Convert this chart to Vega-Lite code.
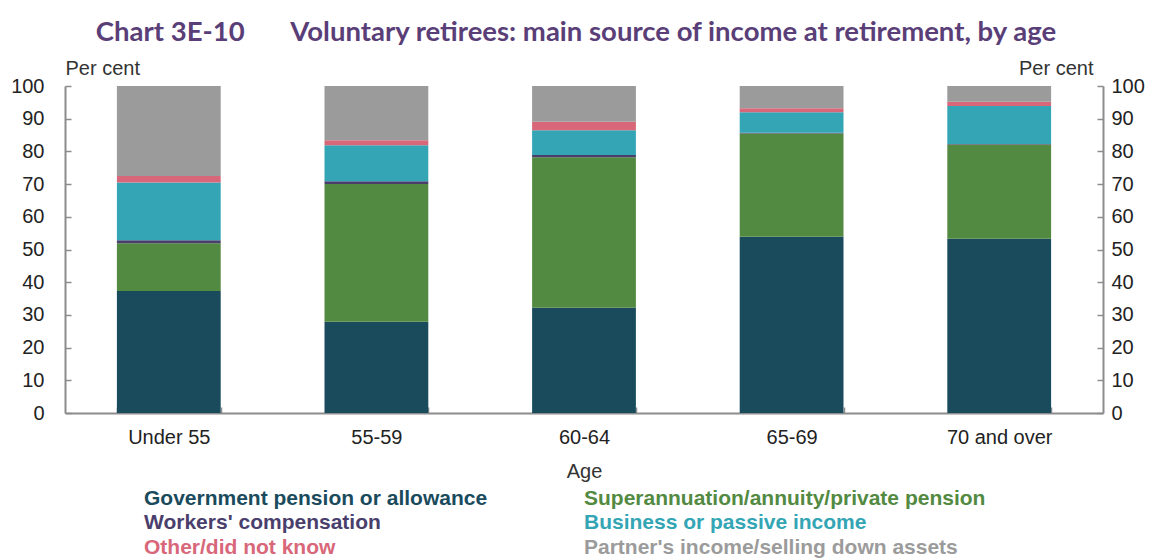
{
  "$schema": "https://vega.github.io/schema/vega-lite/v6.json",
  "autosize": {"type": "none"},
  "width": 1038,
  "height": 327,
  "padding": {"left": 65, "top": 86, "right": 56, "bottom": 146},
  "background": "white",
  "title": {
    "text": "Chart 3E-10\u00a0\u00a0\u00a0\u00a0\u00a0\u00a0\u00a0Voluntary retirees: main source of income at retirement, by age",
    "font": "Lato",
    "fontWeight": "bold",
    "fontSize": 27.5,
    "color": "#5a3e78",
    "anchor": "middle",
    "offset": 12,
    "dx": -8
  },
  "data": {
    "values": [
      {"age": "Under 55", "source": "Government pension or allowance", "value": 37.3},
      {"age": "Under 55", "source": "Superannuation/annuity/private pension", "value": 14.6},
      {"age": "Under 55", "source": "Workers' compensation", "value": 0.9},
      {"age": "Under 55", "source": "Business  or passive  income", "value": 17.7},
      {"age": "Under 55", "source": "Other/did not know", "value": 2.0},
      {"age": "Under 55", "source": "Partner's income/selling down assets", "value": 27.5},
      {"age": "55-59", "source": "Government pension or allowance", "value": 27.9},
      {"age": "55-59", "source": "Superannuation/annuity/private pension", "value": 42.1},
      {"age": "55-59", "source": "Workers' compensation", "value": 0.9},
      {"age": "55-59", "source": "Business  or passive  income", "value": 11.0},
      {"age": "55-59", "source": "Other/did not know", "value": 1.5},
      {"age": "55-59", "source": "Partner's income/selling down assets", "value": 16.6},
      {"age": "60-64", "source": "Government pension or allowance", "value": 32.2},
      {"age": "60-64", "source": "Superannuation/annuity/private pension", "value": 46.0},
      {"age": "60-64", "source": "Workers' compensation", "value": 0.7},
      {"age": "60-64", "source": "Business  or passive  income", "value": 7.6},
      {"age": "60-64", "source": "Other/did not know", "value": 2.6},
      {"age": "60-64", "source": "Partner's income/selling down assets", "value": 10.9},
      {"age": "65-69", "source": "Government pension or allowance", "value": 53.9},
      {"age": "65-69", "source": "Superannuation/annuity/private pension", "value": 31.6},
      {"age": "65-69", "source": "Workers' compensation", "value": 0.2},
      {"age": "65-69", "source": "Business  or passive  income", "value": 6.3},
      {"age": "65-69", "source": "Other/did not know", "value": 1.2},
      {"age": "65-69", "source": "Partner's income/selling down assets", "value": 6.8},
      {"age": "70 and over", "source": "Government pension or allowance", "value": 53.3},
      {"age": "70 and over", "source": "Superannuation/annuity/private pension", "value": 28.8},
      {"age": "70 and over", "source": "Workers' compensation", "value": 0.2},
      {"age": "70 and over", "source": "Business  or passive  income", "value": 11.6},
      {"age": "70 and over", "source": "Other/did not know", "value": 1.3},
      {"age": "70 and over", "source": "Partner's income/selling down assets", "value": 4.8}
    ]
  },
  "transform": [
    {
      "calculate": "indexof(['Government pension or allowance', 'Superannuation/annuity/private pension', \"Workers' compensation\", 'Business  or passive  income', 'Other/did not know', \"Partner's income/selling down assets\"], datum.source)",
      "as": "stackOrder"
    }
  ],
  "config": {
    "view": {"stroke": null},
    "axis": {
      "labelFont": "Liberation Sans, Arial, sans-serif",
      "titleFont": "Liberation Sans, Arial, sans-serif",
      "labelFontSize": 20,
      "labelColor": "#222222",
      "titleColor": "#333333",
      "domainColor": "#8c8c8c",
      "domainWidth": 2,
      "tickColor": "#8c8c8c",
      "tickWidth": 1.5,
      "grid": false
    }
  },
  "encoding": {
    "x": {
      "field": "age",
      "type": "nominal",
      "sort": ["Under 55", "55-59", "60-64", "65-69", "70 and over"],
      "scale": {"paddingInner": 0.5, "paddingOuter": 0.25},
      "axis": {
        "title": "Age",
        "titleFontSize": 20,
        "titleFontWeight": "normal",
        "titlePadding": 14,
        "labelAngle": 0,
        "labelPadding": 20,
        "tickBand": "extent",
        "tickSize": -6
      }
    },
    "order": {"field": "stackOrder", "type": "quantitative", "sort": "ascending"},
    "color": {
      "field": "source",
      "type": "nominal",
      "scale": {
        "domain": [
          "Government pension or allowance",
          "Workers' compensation",
          "Other/did not know",
          "Superannuation/annuity/private pension",
          "Business  or passive  income",
          "Partner's income/selling down assets"
        ],
        "range": ["#1a4b5d", "#4a3f6c", "#d8677a", "#538a42", "#33a5b4", "#9b9b9b"]
      },
      "legend": {
        "orient": "none",
        "legendX": 58,
        "legendY": 402,
        "columns": 2,
        "title": null,
        "symbolSize": 0,
        "symbolStrokeWidth": 0,
        "symbolOpacity": 0,
        "labelOffset": 0,
        "labelFont": "Liberation Sans, Arial, sans-serif",
        "labelFontSize": 21,
        "labelFontWeight": "bold",
        "labelLimit": 600,
        "rowPadding": 2.5,
        "columnPadding": 75,
        "encode": {
          "labels": {"update": {"fill": {"scale": "color", "field": "value"}}}
        }
      }
    }
  },
  "layer": [
    {
      "mark": {"type": "bar"},
      "encoding": {
        "y": {
          "field": "value",
          "type": "quantitative",
          "stack": "zero",
          "scale": {"domain": [0, 100], "nice": false},
          "axis": {
            "orient": "left",
            "values": [0, 10, 20, 30, 40, 50, 60, 70, 80, 90, 100],
            "tickSize": -6,
            "labelPadding": 27,
            "title": "Per cent",
            "titleAngle": 0,
            "titleFontSize": 20,
            "titleFontWeight": "normal",
            "titleAlign": "left",
            "titleBaseline": "bottom",
            "titleX": 0,
            "titleY": -8
          }
        }
      }
    },
    {
      "mark": {"type": "bar", "opacity": 0},
      "encoding": {
        "y": {
          "field": "value",
          "type": "quantitative",
          "stack": "zero",
          "scale": {"domain": [0, 100], "nice": false},
          "axis": {
            "orient": "right",
            "values": [0, 10, 20, 30, 40, 50, 60, 70, 80, 90, 100],
            "tickSize": -6,
            "labelPadding": 14,
            "title": "Per cent",
            "titleAngle": 0,
            "titleFontSize": 20,
            "titleFontWeight": "normal",
            "titleAlign": "right",
            "titleBaseline": "bottom",
            "titleX": -10,
            "titleY": -8
          }
        }
      }
    }
  ],
  "resolve": {"axis": {"y": "independent"}}
}
